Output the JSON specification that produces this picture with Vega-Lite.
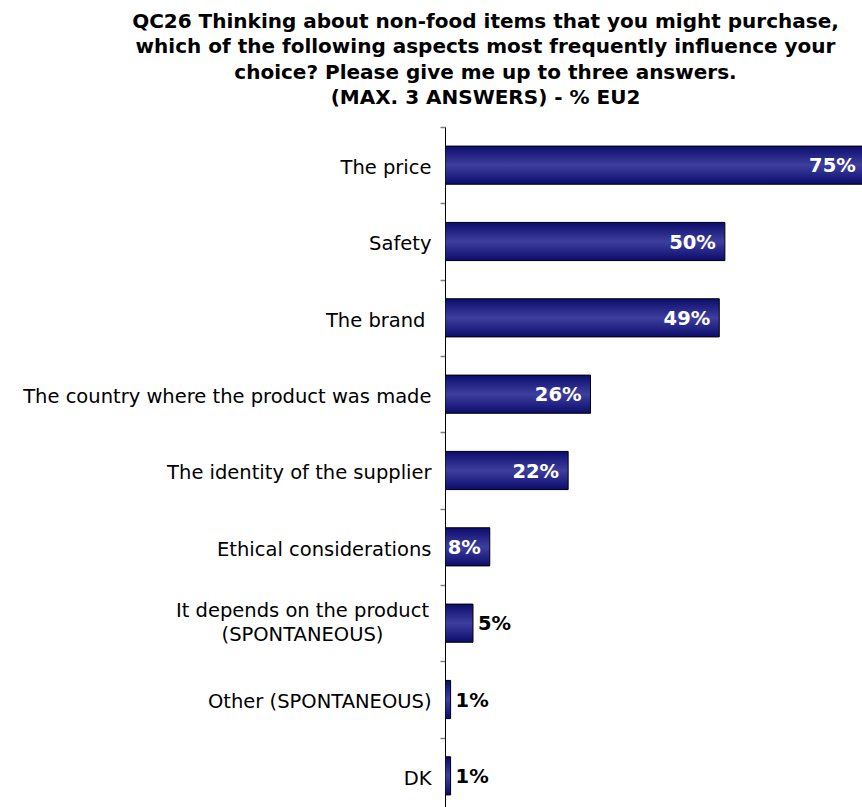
{
  "$schema": "https://vega.github.io/schema/vega-lite/v6.json",
  "width": 417,
  "height": 687,
  "autosize": {"type": "none"},
  "padding": {"left": 445, "top": 127, "right": 0, "bottom": -7},
  "background": "white",
  "title": {
    "text": [
      "QC26 Thinking about non-food items that you might purchase,",
      "which of the following aspects most frequently influence your",
      "choice? Please give me up to three answers.",
      "(MAX. 3 ANSWERS) - % EU2"
    ],
    "anchor": "middle",
    "frame": "group",
    "dx": -168,
    "offset": 18,
    "font": "DejaVu Sans",
    "fontSize": 20,
    "fontWeight": "bold",
    "color": "#000000",
    "lineHeight": 25.5
  },
  "data": {
    "values": [
      {"aspect": "The price", "pct": 0.75},
      {"aspect": "Safety", "pct": 0.50},
      {"aspect": "The brand", "pct": 0.49},
      {"aspect": "The country where the product was made", "pct": 0.26},
      {"aspect": "The identity of the supplier", "pct": 0.22},
      {"aspect": "Ethical considerations", "pct": 0.08},
      {"aspect": "It depends on the product (SPONTANEOUS)", "pct": 0.05},
      {"aspect": "Other (SPONTANEOUS)", "pct": 0.01},
      {"aspect": "DK", "pct": 0.01}
    ]
  },
  "encoding": {
    "y": {
      "field": "aspect",
      "type": "nominal",
      "sort": null,
      "scale": {"paddingInner": 0.5, "paddingOuter": 0.25},
      "axis": {
        "title": null,
        "domain": true,
        "domainColor": "#000000",
        "domainWidth": 1,
        "ticks": true,
        "tickOffset": -38.17,
        "tickColor": "#808080",
        "tickSize": 5,
        "tickWidth": 1.5,
        "grid": false,
        "labelFont": "DejaVu Sans",
        "labelFontSize": 19.5,
        "labelColor": "#000000",
        "labelOffset": {
          "condition": {"test": "datum.value == 'It depends on the product (SPONTANEOUS)'", "value": 25.5},
          "value": 40.5
        },
        "labelLimit": 0,
        "labelLineHeight": 24,
        "labelAlign": {
          "condition": {"test": "datum.value == 'It depends on the product (SPONTANEOUS)'", "value": "center"},
          "value": "right"
        },
        "labelPadding": {
          "condition": [
            {"test": "datum.value == 'It depends on the product (SPONTANEOUS)'", "value": 138},
            {"test": "datum.value == 'The brand'", "value": 15}
          ],
          "value": 9
        },
        "labelExpr": "datum.value == 'It depends on the product (SPONTANEOUS)' ? ['It depends on the product', '(SPONTANEOUS)'] : datum.label"
      }
    },
    "x": {
      "field": "pct",
      "type": "quantitative",
      "scale": {"domain": [0, 0.745], "nice": false, "zero": true},
      "axis": null
    }
  },
  "layer": [
    {
      "mark": {
        "type": "bar",
        "clip": true,
        "stroke": "#000000",
        "strokeWidth": 1,
        "color": {
          "gradient": "linear",
          "x1": 0, "y1": 0, "x2": 0, "y2": 1,
          "stops": [
            {"offset": 0, "color": "#0c0c6c"},
            {"offset": 0.5, "color": "#3e3e9e"},
            {"offset": 1, "color": "#0c0c6c"}
          ]
        }
      }
    },
    {
      "transform": [{"filter": "datum.pct >= 0.08"}],
      "mark": {
        "type": "text",
        "align": "right",
        "baseline": "middle",
        "dx": -9,
        "dy": 1,
        "font": "DejaVu Sans",
        "fontSize": 19.5,
        "fontWeight": "bold",
        "color": "#ffffff"
      },
      "encoding": {"text": {"field": "pct", "type": "quantitative", "format": ".0%"}}
    },
    {
      "transform": [{"filter": "datum.pct < 0.08"}],
      "mark": {
        "type": "text",
        "align": "left",
        "baseline": "middle",
        "dx": 5,
        "dy": 1,
        "font": "DejaVu Sans",
        "fontSize": 19.5,
        "fontWeight": "bold",
        "color": "#000000"
      },
      "encoding": {"text": {"field": "pct", "type": "quantitative", "format": ".0%"}}
    }
  ],
  "config": {"view": {"stroke": null}}
}
